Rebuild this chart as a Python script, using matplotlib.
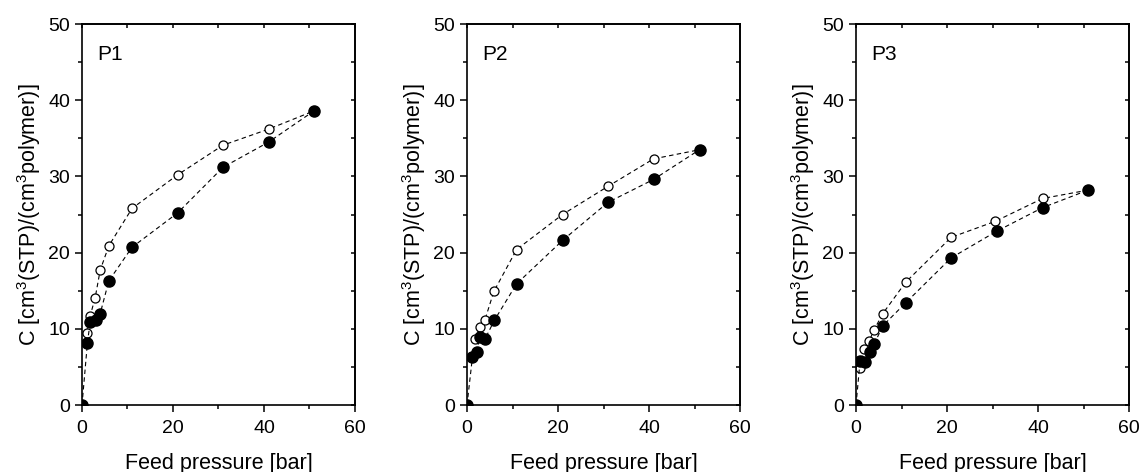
import matplotlib
matplotlib.use('Agg')
import matplotlib.pyplot as plt
from matplotlib.ticker import MultipleLocator, NullFormatter

plt.rcParams['font.family'] = ['Liberation Sans', 'DejaVu Sans']
plt.rcParams['mathtext.fontset'] = 'custom'
plt.rcParams['mathtext.rm'] = 'Liberation Sans'

panels = ['P1', 'P2', 'P3']

# filled circles
p_fill = [
    [0, 1.2, 1.8, 3.0, 4.0, 5.9, 11, 21, 31, 41, 51],
    [0, 1.2, 2.1, 2.8, 4.0, 6.0, 10.9, 21, 31, 41, 51.1],
    [0, 0.9, 2.0, 3.0, 4.0, 5.9, 10.9, 20.9, 30.9, 41, 51],
]
c_fill = [
    [0, 8.2, 10.9, 11.1, 12.0, 16.3, 20.7, 25.2, 31.2, 34.5, 38.6],
    [0, 6.3, 7.0, 8.9, 8.7, 11.1, 15.9, 21.6, 26.6, 29.6, 33.5],
    [0, 5.8, 5.6, 7.0, 8.0, 10.4, 13.4, 19.3, 22.8, 25.9, 28.2],
]
# open circles
p_open = [
    [1.0, 1.8, 2.9, 4.0, 5.9, 11, 21, 31, 41, 51],
    [1.7, 2.8, 3.9, 5.9, 10.9, 21, 31, 41, 51.1],
    [0.9, 1.8, 2.9, 4.0, 5.9, 10.9, 20.9, 30.6, 41, 51],
]
c_open = [
    [9.5, 11.7, 14.1, 17.7, 20.9, 25.8, 30.2, 34.1, 36.2, 38.6],
    [8.6, 10.2, 11.1, 14.9, 20.4, 25.0, 28.7, 32.3, 33.5],
    [4.9, 7.3, 8.4, 9.9, 12.0, 16.1, 22.0, 24.1, 27.1, 28.2],
]

fig = plt.figure(figsize=(11.42, 4.72), dpi=100)
lefts = [82, 467, 856]
W, H = 1142, 472
for i, name in enumerate(panels):
    ax = fig.add_axes([lefts[i] / W, (H - 405) / H, 273 / W, 381 / H])
    ax.plot(p_open[i], c_open[i], ls=(0, (4, 3)), color='black', lw=0.8,
            marker='o', ms=6.5, mfc='white', mec='black', mew=0.9)
    ax.plot(p_fill[i], c_fill[i], ls=(0, (4, 3)), color='black', lw=0.8,
            marker='o', ms=8, mfc='black', mec='black')
    ax.set_xlim(0, 60)
    ax.set_ylim(0, 50)
    ax.xaxis.set_major_locator(MultipleLocator(20))
    ax.xaxis.set_minor_locator(MultipleLocator(10))
    ax.yaxis.set_major_locator(MultipleLocator(10))
    ax.yaxis.set_minor_locator(MultipleLocator(5))
    ax.tick_params(which='both', direction='out', labelsize=14, width=1.1)
    ax.tick_params(which='major', length=5)
    ax.tick_params(which='minor', length=3)
    ax.tick_params(axis='x', which='major', pad=6)

    # inward ticks on top and right
    top = ax.secondary_xaxis('top')
    top.xaxis.set_major_locator(MultipleLocator(10))
    top.xaxis.set_major_formatter(NullFormatter())
    top.tick_params(direction='in', length=3, width=1.1)
    right = ax.secondary_yaxis('right')
    right.yaxis.set_major_locator(MultipleLocator(5))
    right.yaxis.set_major_formatter(NullFormatter())
    right.tick_params(direction='in', length=3, width=1.1)
    for a in (ax, top, right):
        for s in a.spines.values():
            s.set_linewidth(1.2)

    ax.set_xlabel('Feed pressure [bar]', fontsize=15.5, labelpad=11)
    ax.set_ylabel('C [cm$^3$(STP)/(cm$^3$polymer)]', fontsize=15.5, labelpad=4)
    ax.text(0.055, 0.92, name, transform=ax.transAxes, fontsize=15,
            va='center', ha='left')

fig.savefig('out.png', dpi=100)
